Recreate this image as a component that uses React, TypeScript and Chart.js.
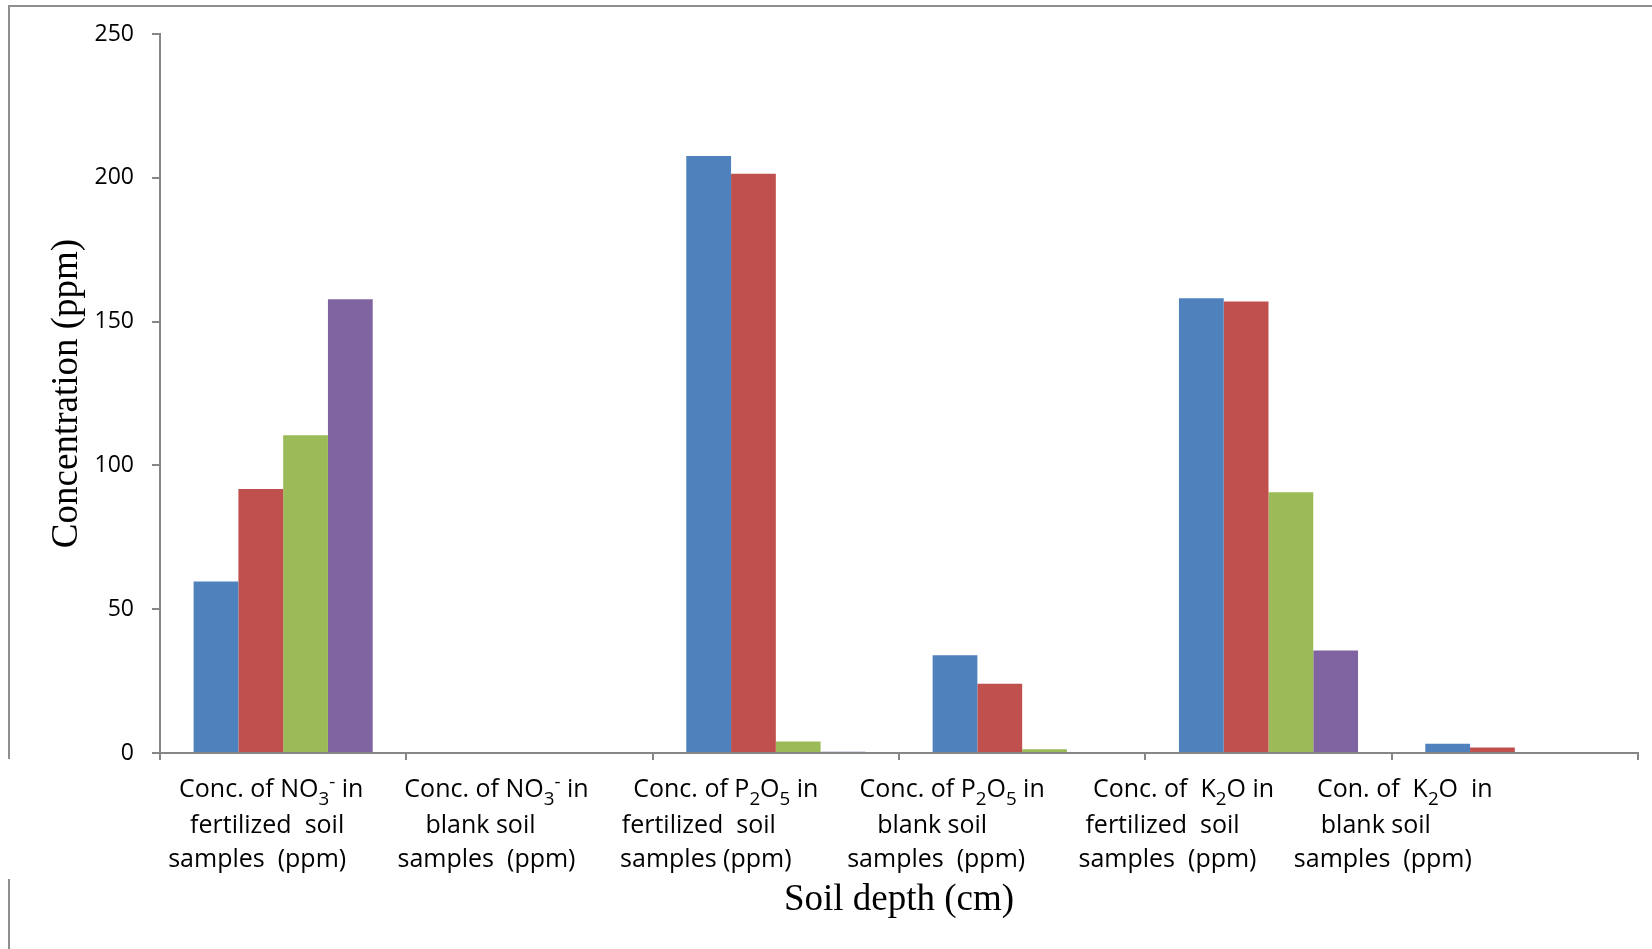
import React, { useEffect, useRef } from 'react';
import { Chart, registerables } from 'chart.js';

Chart.register(...registerables);

// Category labels, one string per line; Unicode sub/superscripts mark the formulas
const categories: string[][] = [
  ['Conc. of NO₃⁻ in', 'fertilized  soil', 'samples  (ppm)'],
  ['Conc. of NO₃⁻ in', 'blank soil', 'samples  (ppm)'],
  ['Conc. of P₂O₅ in', 'fertilized  soil', 'samples (ppm)'],
  ['Conc. of P₂O₅ in', 'blank soil', 'samples  (ppm)'],
  ['Conc. of  K₂O in', 'fertilized  soil', 'samples  (ppm)'],
  ['Con. of  K₂O  in', 'blank soil', 'samples  (ppm)'],
];

const seriesNames = ['Series 1', 'Series 2', 'Series 3', 'Series 4'];
const series1 = [59.6, 0, 207.6, 34.0, 158.1, 3.2];
const series2 = [91.8, 0, 201.4, 24.1, 157.0, 1.9];
const series3 = [110.5, 0, 4.0, 1.3, 90.7, 0.35];
const series4 = [157.8, 0, 0.4, 0, 35.6, 0];
const seriesColors = ['#4F81BD', '#C0504D', '#9BBB59', '#8064A2'];

const yMin = 0;
const yMax = 250;
const yStep = 50;

const xTitle = 'Soil depth (cm)';
const yTitle = 'Concentration (ppm)';

const AXIS_GRAY = '#868686';

// Label layout: horizontal shift of each line from its category centre,
// and the baseline of each line below the x axis.
const labelLineShift: number[][] = [
  [-12, -16, -26],
  [-33, -49, -43],
  [-50, -77, -70],
  [-70, -90, -86],
  [-85, -106, -101],
  [-110, -139, -132],
];
const labelBaselines = [44, 80, 114];
const LABEL_FONT_SIZE = 25;
const LABEL_FONT_FAMILY = 'Open Sans';

const SUB_DIGITS: Record<string, string> = {
  '₀': '0', '₁': '1', '₂': '2', '₃': '3', '₄': '4',
  '₅': '5', '₆': '6', '₇': '7', '₈': '8', '₉': '9',
};
const SUP_CHARS: Record<string, string> = { '⁻': '-', '⁺': '+' };

type Run = { text: string; kind: 'normal' | 'sub' | 'sup' };

function splitRuns(text: string): Run[] {
  const runs: Run[] = [];
  for (const ch of text) {
    let kind: Run['kind'] = 'normal';
    let t = ch;
    if (SUB_DIGITS[ch]) { kind = 'sub'; t = SUB_DIGITS[ch]; }
    else if (SUP_CHARS[ch]) { kind = 'sup'; t = SUP_CHARS[ch]; }
    const last = runs[runs.length - 1];
    if (last && last.kind === kind) last.text += t;
    else runs.push({ text: t, kind });
  }
  return runs;
}

function runFont(kind: Run['kind']) {
  const size = kind === 'normal' ? LABEL_FONT_SIZE : LABEL_FONT_SIZE * 0.75;
  return `${size}px "${LABEL_FONT_FAMILY}"`;
}

function drawRichText(ctx: CanvasRenderingContext2D, text: string, cx: number, baseline: number) {
  const runs = splitRuns(text);
  let total = 0;
  const widths = runs.map((r) => {
    ctx.font = runFont(r.kind);
    const w = ctx.measureText(r.text).width;
    total += w;
    return w;
  });
  let x = cx - total / 2;
  runs.forEach((r, i) => {
    ctx.font = runFont(r.kind);
    let y = baseline;
    if (r.kind === 'sub') y += LABEL_FONT_SIZE * 0.3;
    if (r.kind === 'sup') y -= LABEL_FONT_SIZE * 0.36;
    ctx.fillText(r.text, x, y);
    x += widths[i];
  });
}

// Category labels under the x axis, with true sub/superscripts
const categoryLabelPlugin = {
  id: 'categoryLabels',
  afterDraw(chart: any) {
    const xScale = chart.scales.x;
    const ctx: CanvasRenderingContext2D = chart.ctx;
    ctx.save();
    ctx.fillStyle = '#000000';
    ctx.textAlign = 'left';
    ctx.textBaseline = 'alphabetic';
    categories.forEach((lines, i) => {
      const center = xScale.getPixelForTick(i);
      lines.forEach((line, j) => {
        drawRichText(ctx, line, center + labelLineShift[i][j], xScale.top + labelBaselines[j]);
      });
    });
    ctx.restore();
  },
};

// Outer frame lines around the figure
const framePlugin = {
  id: 'frame',
  afterDraw(chart: any) {
    const ctx: CanvasRenderingContext2D = chart.ctx;
    const w = chart.width;
    const h = chart.height;
    ctx.save();
    ctx.strokeStyle = '#8e8e8e';
    ctx.lineWidth = 2;
    ctx.beginPath();
    ctx.moveTo(8, 6);
    ctx.lineTo(w, 6);
    ctx.moveTo(9, 5);
    ctx.lineTo(9, 759);
    ctx.moveTo(9, 879);
    ctx.lineTo(9, h);
    ctx.stroke();
    ctx.restore();
  },
};

export default function App() {
  const canvasRef = useRef<HTMLCanvasElement | null>(null);

  useEffect(() => {
    const canvas = canvasRef.current;
    if (!canvas) return;
    const allSeries = [series1, series2, series3, series4];
    const chart = new Chart(canvas, {
      type: 'bar',
      data: {
        labels: categories,
        datasets: allSeries.map((values, i) => ({
          label: seriesNames[i],
          data: values,
          backgroundColor: seriesColors[i],
          borderWidth: 0,
          categoryPercentage: 0.727,
          barPercentage: 1.0,
        })),
      },
      options: {
        responsive: false,
        animation: false,
        devicePixelRatio: 1,
        layout: { padding: { left: 0, top: 34, right: 14, bottom: 0 } },
        plugins: {
          legend: { display: false },
          tooltip: { enabled: false },
        },
        scales: {
          x: {
            grid: {
              display: true,
              offset: true,
              drawOnChartArea: false,
              drawTicks: true,
              tickLength: 7,
              color: AXIS_GRAY,
              lineWidth: 2,
            },
            border: { display: true, color: AXIS_GRAY, width: 2 },
            ticks: { display: false, autoSkip: false, maxRotation: 0 },
            title: {
              display: true,
              text: xTitle,
              color: '#000000',
              font: { family: 'Liberation Serif', size: 37, lineHeight: 1 },
              padding: { top: 0, bottom: 30 },
            },
            afterFit(scale: any) {
              scale.height = 196;
            },
          },
          y: {
            min: yMin,
            max: yMax,
            ticks: {
              stepSize: yStep,
              color: '#000000',
              font: { family: 'Open Sans', size: 23 },
              padding: 18,
            },
            grid: {
              display: true,
              drawOnChartArea: false,
              drawTicks: true,
              tickLength: 8,
              color: AXIS_GRAY,
              lineWidth: 2,
            },
            border: { display: true, color: AXIS_GRAY, width: 2 },
            title: {
              display: true,
              text: yTitle,
              color: '#000000',
              font: { family: 'Liberation Serif', size: 37, lineHeight: 1 },
              padding: { top: 49, bottom: 0 },
            },
            afterFit(scale: any) {
              scale.width = 160;
            },
          },
        },
      },
      plugins: [categoryLabelPlugin, framePlugin],
    });
    return () => chart.destroy();
  }, []);

  return (
    <div style={{ position: 'fixed', left: 0, top: 0, width: 1652, height: 949, background: '#ffffff' }}>
      <canvas ref={canvasRef} width={1652} height={949} style={{ display: 'block' }} />
    </div>
  );
}
